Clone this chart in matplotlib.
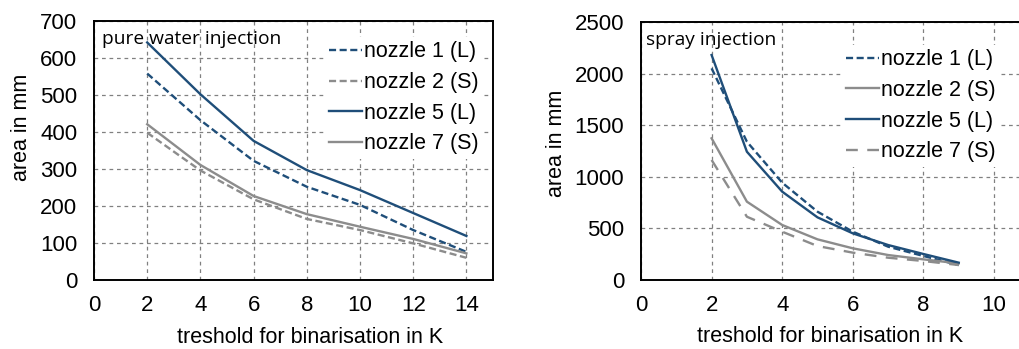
import matplotlib
matplotlib.use("Agg")
import matplotlib.pyplot as plt

# pure water injection (left)
x_water = [2, 4, 6, 8, 10, 12, 14]
w_nozzle1 = [558, 432, 322, 252, 203, 135, 76]
w_nozzle2 = [398, 296, 218, 165, 135, 99, 60]
w_nozzle5 = [642, 502, 376, 297, 243, 181, 119]
w_nozzle7 = [421, 311, 227, 178, 144, 111, 72]

# spray injection (right)
x_spray = [2, 3, 4, 5, 6, 7, 8, 9]
s_nozzle1 = [2051, 1340, 943, 662, 468, 323, 233, 145]
s_nozzle2 = [1373, 759, 533, 394, 307, 242, 200, 161]
s_nozzle5 = [2180, 1243, 856, 607, 452, 339, 252, 168]
s_nozzle7 = [1163, 613, 468, 329, 265, 216, 184, 145]

BLUE = "#1f4e79"
GRAY = "#8c8c8c"
plt.rcParams['font.family'] = ['Liberation Sans', 'DejaVu Sans']

fig = plt.figure(figsize=(10.19, 3.49), dpi=100)
W, H = 1019, 349
axL = fig.add_axes([94/W, 69/H, 399/W, 259/H])
axR = fig.add_axes([641/W, 69/H, 423.6/W, 258/H])

def style(ax, xlim, ylim, xt, yt, xl, yl):
    ax.set_xlim(*xlim); ax.set_ylim(*ylim)
    ax.set_xticks(xt); ax.set_yticks(yt)
    ax.tick_params(axis='x', length=0, labelsize=16, pad=11)
    ax.tick_params(axis='y', length=0, labelsize=16, pad=12)
    ax.grid(True, color="#808080", linestyle=(0, (3, 3)), linewidth=0.9)
    for s in ax.spines.values():
        s.set_linewidth(1.4)
    ax.set_xlabel("treshold for binarisation in K", fontsize=15.5)
    ax.set_ylabel("area in mm", fontsize=15.5)
    ax.xaxis.set_label_coords(*xl)
    ax.yaxis.set_label_coords(*yl)

style(axL, (0, 15), (0, 700), range(0, 16, 2), range(0, 701, 100),
      (0.541, -0.18), (-0.155, 0.59))
axL.plot(x_water, w_nozzle1, color=BLUE, lw=1.7, ls=(0, (3, 1.5)), label="nozzle 1 (L)")
axL.plot(x_water, w_nozzle2, color=GRAY, lw=1.7, ls=(0, (3, 1.5)), label="nozzle 2 (S)")
axL.plot(x_water, w_nozzle5, color=BLUE, lw=1.7, label="nozzle 5 (L)")
axL.plot(x_water, w_nozzle7, color=GRAY, lw=1.7, label="nozzle 7 (S)")
axL.text(0.02, 0.965, "pure water injection", transform=axL.transAxes, fontsize=13.8,
         family=['Open Sans'], va='top', ha='left')

style(axR, (0, 12), (0, 2500), range(0, 11, 2), range(0, 2501, 500),
      (0.446, -0.18), (-0.174, 0.53))
axR.plot(x_spray, s_nozzle1, color=BLUE, lw=1.7, ls=(0, (3, 1.5)), label="nozzle 1 (L)")
axR.plot(x_spray, s_nozzle2, color=GRAY, lw=1.7, label="nozzle 2 (S)")
axR.plot(x_spray, s_nozzle5, color=BLUE, lw=1.7, label="nozzle 5 (L)")
axR.plot(x_spray, s_nozzle7, color=GRAY, lw=1.7, ls=(0, (5, 4)), label="nozzle 7 (S)")
axR.text(0.012, 0.965, "spray injection", transform=axR.transAxes, fontsize=13.8,
         family=['Open Sans'], va='top', ha='left')

for ax, anchor in ((axL, (0.579, 0.938)), (axR, (0.4745, 0.911))):
    ax.legend(loc="upper left", bbox_to_anchor=anchor, fontsize=15.5, frameon=True,
              framealpha=1, edgecolor="none", fancybox=False, handlelength=1.5,
              handletextpad=0.1, labelspacing=0.45, borderpad=0.2, borderaxespad=0)

fig.savefig("out.png", dpi=100)
